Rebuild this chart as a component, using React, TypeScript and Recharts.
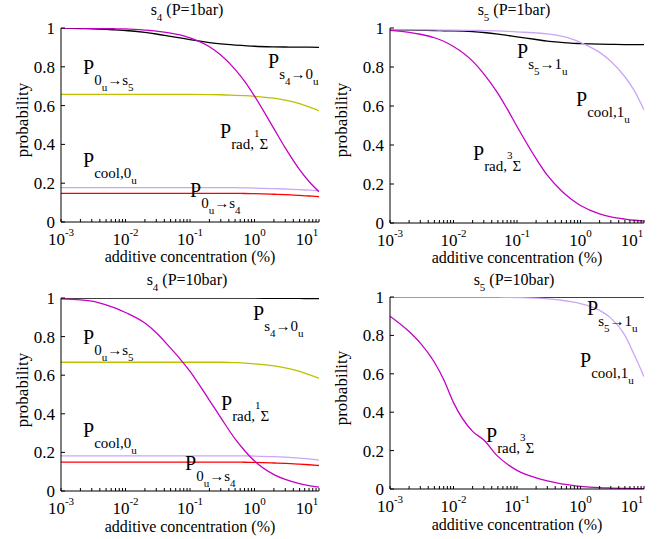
import React from "react";
import { LineChart, Line, XAxis, YAxis } from "recharts";

const FONT = "'Liberation Serif', 'Times New Roman', Times, serif";
const TXT = { fontFamily: FONT };

// additive concentration (%), log-spaced sample points
const conc = [0.001, 0.002, 0.003, 0.005, 0.007, 0.01, 0.02, 0.03, 0.05, 0.07, 0.1, 0.2, 0.3, 0.5, 0.7, 1, 2, 3, 5, 7, 10];

// s4, P = 1 bar
const s4p1Black = [0.999, 0.997, 0.996, 0.993, 0.99, 0.987, 0.977, 0.969, 0.957, 0.949, 0.94, 0.925, 0.918, 0.912, 0.909, 0.906, 0.903, 0.902, 0.901, 0.901, 0.9];
const s4p1Yellow = [0.658, 0.658, 0.658, 0.658, 0.658, 0.658, 0.658, 0.658, 0.658, 0.658, 0.658, 0.657, 0.656, 0.653, 0.651, 0.648, 0.638, 0.628, 0.61, 0.593, 0.573];
const s4p1Cool = [0.177, 0.177, 0.177, 0.177, 0.177, 0.177, 0.177, 0.177, 0.177, 0.177, 0.177, 0.177, 0.177, 0.177, 0.176, 0.175, 0.172, 0.17, 0.167, 0.164, 0.161];
const s4p1Red = [0.148, 0.148, 0.148, 0.148, 0.148, 0.148, 0.148, 0.148, 0.148, 0.148, 0.148, 0.148, 0.148, 0.148, 0.147, 0.146, 0.143, 0.141, 0.137, 0.134, 0.131];
const s4p1Rad = [0.999, 0.999, 0.998, 0.997, 0.996, 0.995, 0.989, 0.984, 0.974, 0.964, 0.949, 0.903, 0.861, 0.787, 0.726, 0.649, 0.481, 0.382, 0.27, 0.209, 0.156];

// s5, P = 1 bar
const s5p1Black = [0.99, 0.989, 0.988, 0.987, 0.986, 0.985, 0.981, 0.977, 0.969, 0.962, 0.955, 0.941, 0.933, 0.926, 0.922, 0.92, 0.917, 0.916, 0.915, 0.915, 0.915];
const s5p1Cool = [0.99, 0.99, 0.99, 0.99, 0.989, 0.989, 0.988, 0.987, 0.985, 0.983, 0.98, 0.975, 0.97, 0.958, 0.946, 0.926, 0.875, 0.83, 0.75, 0.68, 0.58];
const s5p1Rad = [0.988, 0.978, 0.968, 0.95, 0.932, 0.905, 0.83, 0.765, 0.665, 0.585, 0.495, 0.33, 0.245, 0.165, 0.124, 0.09, 0.047, 0.032, 0.02, 0.014, 0.01];

// s4, P = 10 bar
const s4p10Black = [0.999, 0.999, 0.999, 0.999, 0.999, 0.999, 0.999, 0.999, 0.999, 0.999, 0.999, 0.999, 0.999, 0.999, 0.999, 0.999, 0.998, 0.998, 0.998, 0.997, 0.997];
const s4p10Yellow = [0.667, 0.667, 0.667, 0.667, 0.667, 0.667, 0.667, 0.667, 0.667, 0.667, 0.667, 0.667, 0.667, 0.665, 0.663, 0.659, 0.648, 0.638, 0.62, 0.603, 0.584];
const s4p10Cool = [0.182, 0.182, 0.182, 0.182, 0.182, 0.182, 0.182, 0.182, 0.182, 0.182, 0.182, 0.182, 0.182, 0.182, 0.182, 0.181, 0.178, 0.175, 0.17, 0.166, 0.16];
const s4p10Red = [0.15, 0.15, 0.15, 0.15, 0.15, 0.15, 0.15, 0.15, 0.15, 0.15, 0.15, 0.15, 0.15, 0.15, 0.149, 0.148, 0.145, 0.143, 0.139, 0.136, 0.132];
const s4p10Rad = [0.995, 0.99, 0.984, 0.965, 0.948, 0.925, 0.87, 0.82, 0.74, 0.685, 0.62, 0.47, 0.38, 0.27, 0.21, 0.155, 0.085, 0.06, 0.038, 0.028, 0.02];

// s5, P = 10 bar
const s5p10Black = [0.999, 0.999, 0.999, 0.999, 0.999, 0.999, 0.999, 0.999, 0.999, 0.999, 0.999, 0.999, 0.999, 0.999, 0.999, 0.999, 0.999, 0.999, 0.999, 0.999, 0.999];
const s5p10Cool = [0.999, 0.999, 0.999, 0.999, 0.999, 0.999, 0.999, 0.999, 0.999, 0.998, 0.997, 0.994, 0.99, 0.983, 0.976, 0.966, 0.93, 0.89, 0.8, 0.7, 0.585];
const s5p10Rad = [0.9, 0.82, 0.76, 0.66, 0.57, 0.45, 0.3, 0.255, 0.17, 0.13, 0.097, 0.058, 0.042, 0.027, 0.02, 0.014, 0.007, 0.005, 0.003, 0.002, 0.002];

const majorTicks = [0.001, 0.01, 0.1, 1, 10];
const minorTicks = [0.001, 0.01, 0.1, 1].flatMap((d) => [2, 3, 4, 5, 6, 7, 8, 9].map((k) => +(d * k).toPrecision(3)));
const xTicks = [...majorTicks, ...minorTicks].sort((a, b) => a - b);
const yTicks = [0, 0.2, 0.4, 0.6, 0.8, 1];

const BLACK = "#000000";
const YELLOW = "#bfbf00";
const COOL = "#cba6f7";
const RED = "#ff0000";
const MAG = "#c400c4";

type Series = { key: string; values: number[]; color: string };

const XTick = (props: any) => {
  const { x, y, payload } = props;
  const v = payload.value;
  if (!majorTicks.includes(v)) return <g />;
  const exp = Math.round(Math.log10(v));
  const shift = v === 10 ? -12 : 0;
  return (
    <text x={x + shift} y={y + 24} textAnchor="middle" style={TXT} fontSize={17} fill="#000">
      10<tspan dy={-9} fontSize={11}>{exp}</tspan>
    </text>
  );
};

const YTick = (props: any) => {
  const { x, y, payload } = props;
  const v = payload.value;
  const label = v === 0 || v === 1 ? String(v) : v.toFixed(1);
  return (
    <text x={x - 8} y={y + 6} textAnchor="end" style={TXT} fontSize={17} fill="#000">
      {label}
    </text>
  );
};

const Empty = () => <g />;

function Panel({ left, top, w, h, series }: { left: number; top: number; w: number; h: number; series: Series[] }) {
  const data = conc.map((c, i) => {
    const row: Record<string, number> = { c };
    series.forEach((s) => (row[s.key] = s.values[i]));
    return row;
  });
  const xProps = {
    dataKey: "c",
    type: "number" as const,
    scale: "log" as const,
    domain: [0.001, 10],
    allowDataOverflow: true,
    ticks: xTicks,
    interval: 0 as const,
    tickSize: -3,
    stroke: "#000",
  };
  const yProps = {
    type: "number" as const,
    domain: [0, 1],
    allowDataOverflow: true,
    ticks: yTicks,
    interval: 0 as const,
    tickSize: -4,
    stroke: "#000",
  };
  return (
    <div style={{ position: "absolute", left: left - 60, top: top - 30 }}>
      <LineChart width={w + 70} height={h + 70} data={data} margin={{ top: 30, right: 10, bottom: 0, left: 10 }}>
        <XAxis {...xProps} height={40} tick={<XTick />} />
        <XAxis {...xProps} xAxisId="top" orientation="top" height={0} tick={<Empty />} />
        <YAxis {...yProps} width={50} tick={<YTick />} />
        <YAxis {...yProps} yAxisId="right" orientation="right" width={0} tick={<Empty />} />
        {series.map((s) => (
          <Line
            key={s.key}
            dataKey={s.key}
            stroke={s.color}
            strokeWidth={1.3}
            dot={false}
            type="monotone"
            isAnimationActive={false}
          />
        ))}
      </LineChart>
    </div>
  );
}

type Part = [string, number];
const LEVELS: Record<number, { dy: number; size: number }> = {
  0: { dy: 0, size: 20 },
  1: { dy: 11, size: 15 },
  2: { dy: 17, size: 11 },
  3: { dy: -1, size: 11 },
};

function Rich({ x, y, parts }: { x: number; y: number; parts: Part[] }) {
  let cur = 0;
  return (
    <text x={x} y={y} style={TXT} fill="#000">
      {parts.map(([t, lvl], i) => {
        const L = LEVELS[lvl];
        const dy = L.dy - cur;
        cur = L.dy;
        return (
          <tspan key={i} dy={dy} fontSize={L.size}>
            {t}
          </tspan>
        );
      })}
    </text>
  );
}

function Title({ cx, y, sub, rest }: { cx: number; y: number; sub: string; rest: string }) {
  return (
    <text x={cx} y={y} textAnchor="middle" style={TXT} fontSize={16} fill="#000">
      s<tspan dy={6} fontSize={11}>{sub}</tspan>
      <tspan dy={-6}>{rest}</tspan>
    </text>
  );
}

function AxisLabels({ cx, cy, xl, yl }: { cx: number; cy: number; xl: number; yl: number }) {
  return (
    <g style={TXT} fontSize={16} fill="#000">
      <text x={cx} y={xl} textAnchor="middle">additive concentration (%)</text>
      <text x={0} y={0} textAnchor="middle" fontSize={17} transform={`translate(${yl},${cy}) rotate(-90)`}>probability</text>
    </g>
  );
}

const p0s5: Part[] = [["P", 0], ["0", 1], ["u", 2], ["\u2192s", 1], ["5", 2]];
const ps40: Part[] = [["P", 0], ["s", 1], ["4", 2], ["\u21920", 1], ["u", 2]];
const prad1: Part[] = [["P", 0], ["rad,", 1], ["1", 3], ["\u03a3", 1]];
const pcool0: Part[] = [["P", 0], ["cool,0", 1], ["u", 2]];
const p0s4: Part[] = [["P", 0], ["0", 1], ["u", 2], ["\u2192s", 1], ["4", 2]];
const ps51: Part[] = [["P", 0], ["s", 1], ["5", 2], ["\u21921", 1], ["u", 2]];
const pcool1: Part[] = [["P", 0], ["cool,1", 1], ["u", 2]];
const prad3: Part[] = [["P", 0], ["rad,", 1], ["3", 3], ["\u03a3", 1]];

export default function App() {
  return (
    <div style={{ position: "absolute", left: 0, top: 0, width: 666, height: 539, background: "#fff", overflow: "hidden", fontFamily: FONT }}>
      <Panel
        left={61}
        top={28}
        w={258}
        h={194}
        series={[
          { key: "black", values: s4p1Black, color: BLACK },
          { key: "yellow", values: s4p1Yellow, color: YELLOW },
          { key: "cool", values: s4p1Cool, color: COOL },
          { key: "red", values: s4p1Red, color: RED },
          { key: "rad", values: s4p1Rad, color: MAG },
        ]}
      />
      <Panel
        left={390}
        top={28}
        w={254}
        h={195}
        series={[
          { key: "black", values: s5p1Black, color: BLACK },
          { key: "cool", values: s5p1Cool, color: COOL },
          { key: "rad", values: s5p1Rad, color: MAG },
        ]}
      />
      <Panel
        left={61}
        top={298}
        w={258}
        h={193}
        series={[
          { key: "black", values: s4p10Black, color: BLACK },
          { key: "yellow", values: s4p10Yellow, color: YELLOW },
          { key: "cool", values: s4p10Cool, color: COOL },
          { key: "red", values: s4p10Red, color: RED },
          { key: "rad", values: s4p10Rad, color: MAG },
        ]}
      />
      <Panel
        left={390}
        top={297}
        w={254}
        h={192}
        series={[
          { key: "black", values: s5p10Black, color: BLACK },
          { key: "cool", values: s5p10Cool, color: COOL },
          { key: "rad", values: s5p10Rad, color: MAG },
        ]}
      />
      <svg width={666} height={539} style={{ position: "absolute", left: 0, top: 0, pointerEvents: "none" }}>
        <Title cx={187} y={15} sub="4" rest=" (P=1bar)" />
        <Title cx={514} y={15} sub="5" rest=" (P=1bar)" />
        <Title cx={187} y={285} sub="4" rest=" (P=10bar)" />
        <Title cx={514} y={285} sub="5" rest=" (P=10bar)" />
        <AxisLabels cx={190} cy={120} xl={262} yl={28} />
        <AxisLabels cx={517} cy={120} xl={263} yl={347} />
        <AxisLabels cx={190} cy={390} xl={532} yl={28} />
        <AxisLabels cx={517} cy={388} xl={530} yl={347} />

        <Rich x={83} y={74} parts={p0s5} />
        <Rich x={268} y={68} parts={ps40} />
        <Rich x={220} y={138} parts={prad1} />
        <Rich x={83} y={167} parts={pcool0} />
        <Rich x={190} y={197} parts={p0s4} />

        <Rich x={517} y={58} parts={ps51} />
        <Rich x={576} y={106} parts={pcool1} />
        <Rich x={473} y={160} parts={prad3} />

        <Rich x={83} y={344} parts={p0s5} />
        <Rich x={253} y={320} parts={ps40} />
        <Rich x={221} y={410} parts={prad1} />
        <Rich x={83} y={437} parts={pcool0} />
        <Rich x={185} y={470} parts={p0s4} />

        <Rich x={587} y={315} parts={ps51} />
        <Rich x={580} y={367} parts={pcool1} />
        <Rich x={486} y={442} parts={prad3} />
      </svg>
    </div>
  );
}
